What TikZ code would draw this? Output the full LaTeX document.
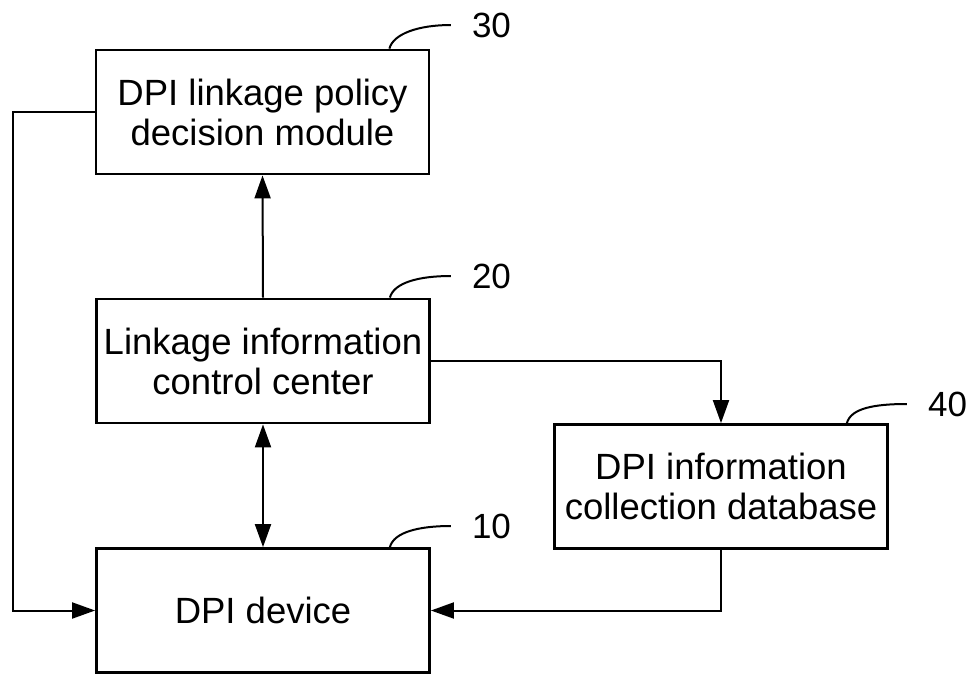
\documentclass[tikz,border=0pt]{standalone}
\usepackage{fontspec}
\setmainfont{Liberation Sans}
\usetikzlibrary{arrows.meta}
\begin{document}
\begin{tikzpicture}[x=1pt,y=-1pt,
  blk/.style={draw,line width=2.8pt,minimum width=333pt,minimum height=124pt,
    align=center,inner sep=0pt,font=\fontsize{36.5}{40}\selectfont},
  num/.style={inner sep=0pt,font=\fontsize{35}{40}\selectfont},
  conn/.style={line width=2pt,-{Triangle[length=23pt,width=16pt]}},
  lead/.style={line width=2pt}]
\useasboundingbox (0,0) rectangle (975,675);
\node[blk] (b30) at (262.5,112) {DPI linkage policy\\decision module};
\node[blk] (b20) at (263,361) {Linkage information\\control center};
\node[blk] (b10) at (263,610.5) {DPI device};
\node[blk] (b40) at (721,486.5) {DPI information\\collection database};
\node[num] (l30) at (491.5,25) {30};
\node[num] (l20) at (491.5,276) {20};
\node[num] (l40) at (947.5,404) {40};
\node[num] (l10) at (491.5,526) {10};
\coordinate (cl) at (13,112);
% leaders
\draw[lead] ([xshift=-41pt]b30.north east) .. controls +(4,-15) and +(-32,0) .. ([xshift=-21pt]l30.west);
\draw[lead] ([xshift=-41pt]b20.north east) .. controls +(4,-15) and +(-32,0) .. ([xshift=-21pt]l20.west);
\draw[lead] ([xshift=-42pt]b40.north east) .. controls +(4,-15) and +(-32,0) .. ([xshift=-21pt]l40.west);
\draw[lead] ([xshift=-41pt]b10.north east) .. controls +(4,-15) and +(-32,0) .. ([xshift=-21pt]l10.west);
% connectors
\draw[conn] (b20.north) -- (b30.south);
\draw[conn,{Triangle[length=23pt,width=16pt]}-{Triangle[length=23pt,width=16pt]}] (b20.south) -- (b10.north);
\draw[conn] (b30.west) -- (b30.west -| cl) |- (b10.west);
\draw[conn] (b20.east) -| (b40.north);
\draw[conn] (b40.south) |- (b10.east);
\end{tikzpicture}
\end{document}
